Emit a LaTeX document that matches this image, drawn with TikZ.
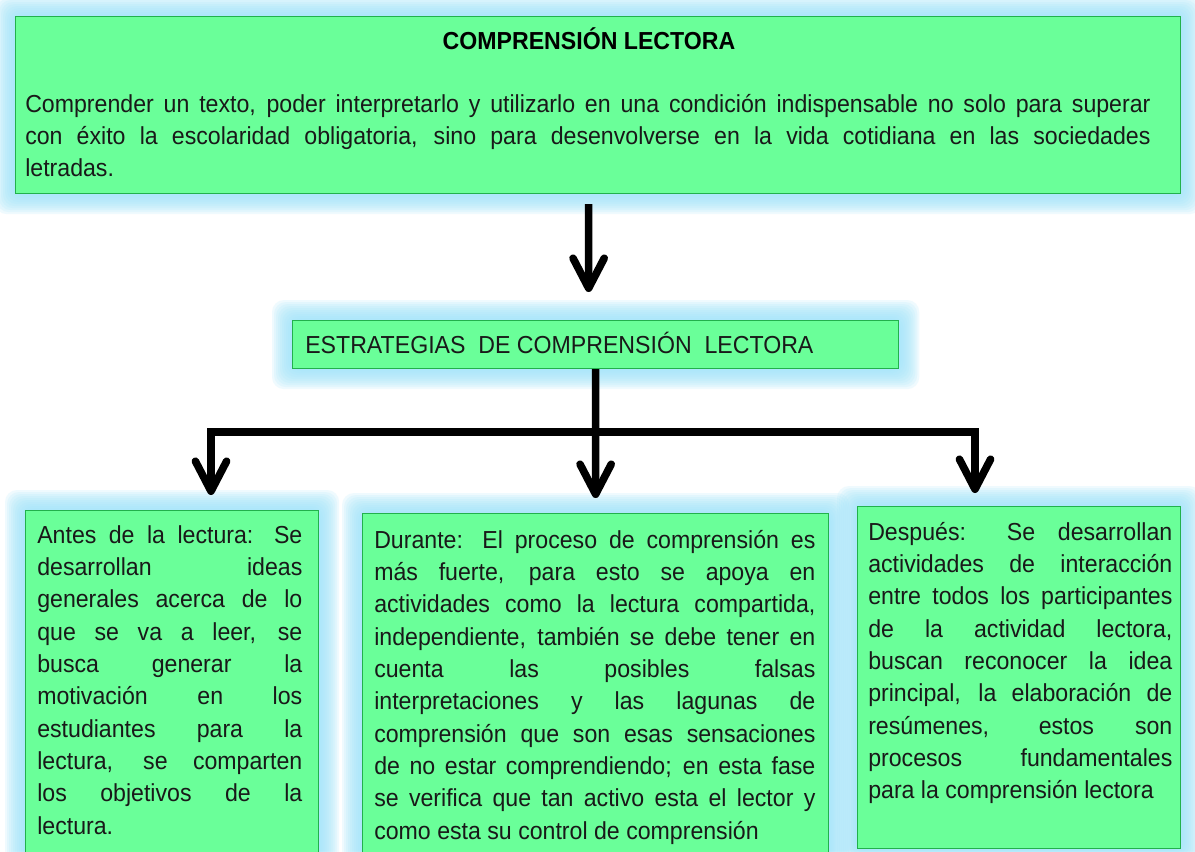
\documentclass[tikz,border=0pt]{standalone}
\usepackage{fontspec}
\setmainfont[FakeStretch=0.94]{Liberation Sans}
\usetikzlibrary{arrows.meta, backgrounds, positioning}
\definecolor{verde}{RGB}{106,255,153}
\definecolor{bordeverde}{RGB}{34,177,76}
\definecolor{celeste}{RGB}{160,228,250}
\newcommand{\cuerpo}{\fontsize{17.5}{23}\selectfont\tolerance=10000\hyphenpenalty=10000\relax}
\tikzstyle{caja} = [rectangle, anchor=north west, inner sep=0pt,
draw=bordeverde, line width=0.8pt, fill=verde]
\tikzstyle{texto} = [inner sep=0pt, anchor=base west, align=justify, text=black!90]
\tikzstyle{flecha} = [line width=0.19cm,
-{Straight Barb[length=0.75cm, width=0.78cm, line cap=round, line join=round]}]

\begin{document}
\begin{tikzpicture}[x=0.025cm, y=-0.025cm, font=\cuerpo]
\useasboundingbox (0,0) rectangle (1195,851);
\clip (0,0) rectangle (1195,851);

\node (top) [caja, minimum width=29.125cm, minimum height=4.425cm] at (15,16) {};
\node (est) [caja, minimum width=15.15cm, minimum height=1.2cm] at (292,320) {};
\node (antes) [caja, minimum width=7.325cm, minimum height=9cm] at (25,510) {};
\node (durante) [caja, minimum width=11.65cm, minimum height=9cm] at (362,513) {};
\node (despues) [caja, minimum width=8.075cm, minimum height=8.55cm] at (857,506) {};

\begin{scope}[on background layer]
\fill[white] (0,0) rectangle (1195,851);
\foreach \n in {top, est, antes, durante, despues}
  \foreach \g in {20,18,...,2}
    \fill[celeste, opacity=0.16, rounded corners=0.3cm]
    ([shift={(-\g,-\g)}]\n.north west) rectangle ([shift={(\g,\g)}]\n.south east);
\end{scope}

\node (titulo) [anchor=base, font=\cuerpo\bfseries] at (589,49) {COMPRENSIÓN LECTORA};

\node (ttop) [texto, text width=28.125cm] at (25,112)
{Comprender un texto, poder interpretarlo y utilizarlo en una condición indispensable no solo para superar\linebreak
con éxito la escolaridad obligatoria, sino para desenvolverse en la vida cotidiana en las sociedades\linebreak
letradas.};

\node (test) [texto] at (305,353) {ESTRATEGIAS\ \ DE COMPRENSIÓN\ \ LECTORA};

\node (tantes) [texto, text width=6.625cm] at (37,543)
{Antes de la lectura: Se\linebreak
desarrollan ideas\linebreak
generales acerca de lo\linebreak
que se va a leer, se\linebreak
busca generar la\linebreak
motivación en los\linebreak
estudiantes para la\linebreak
lectura, se comparten\linebreak
los objetivos de la\linebreak
lectura.};

\node (tdurante) [texto, text width=11.025cm] at (374,548)
{Durante: El proceso de comprensión es\linebreak
más fuerte, para esto se apoya en\linebreak
actividades como la lectura compartida,\linebreak
independiente, también se debe tener en\linebreak
cuenta las posibles falsas\linebreak
interpretaciones y las lagunas de\linebreak
comprensión que son esas sensaciones\linebreak
de no estar comprendiendo; en esta fase\linebreak
se verifica que tan activo esta el lector y\linebreak
como esta su control de comprensión};

\node (tdespues) [texto, text width=7.6cm] at (868,540)
{Después: Se desarrollan\linebreak
actividades de interacción\linebreak
entre todos los participantes\linebreak
de la actividad lectora,\linebreak
buscan reconocer la idea\linebreak
principal, la elaboración de\linebreak
resúmenes, estos son\linebreak
procesos fundamentales\linebreak
para la comprensión lectora};

\coordinate (rama) at (595,432);
\coordinate (ramaizq) at (211,432);
\coordinate (ramader) at (975,432);

\draw [flecha] ([xshift=-0.24cm, yshift=-0.25cm]top.south) -- ([xshift=-0.175cm, yshift=0.7cm]est.north);
\draw [flecha, shorten >=0.375cm] (rama) -| (ramaizq |- antes.north);
\draw [flecha, shorten >=0.325cm] (rama) -| (ramader |- despues.north);
\draw [flecha, shorten >=0.375cm] (est.south) -- (durante.north);

\end{tikzpicture}
\end{document}
